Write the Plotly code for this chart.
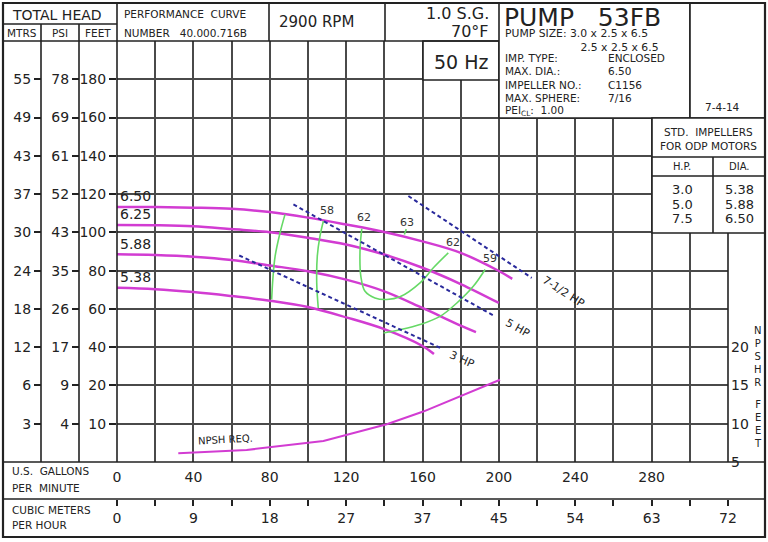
import plotly.graph_objects as go

# ---- values ----
# head-capacity curves, US GPM vs total head (ft), one pair per impeller
imp_names = ["6.50", "6.25", "5.88", "5.38"]
gpm_650 = [0, 20, 40, 60, 80, 100, 120, 140, 160, 180, 200, 207]
ft_650 = [113.2, 113.2, 112.9, 112.3, 110.6, 107.7, 104.1, 100.2, 95.3, 89.3, 79.8, 75.7]
gpm_625 = [0, 20, 40, 60, 80, 100, 120, 140, 160, 180, 200]
ft_625 = [103.8, 103.7, 103.2, 101.7, 100.1, 97.2, 93.7, 88.4, 81.5, 73.0, 63.1]
gpm_588 = [0, 20, 40, 60, 80, 100, 120, 140, 160, 180, 188]
ft_588 = [88.6, 88.2, 87.3, 85.6, 82.7, 79.7, 75.3, 69.2, 60.5, 51.3, 47.9]
gpm_538 = [0, 20, 40, 60, 80, 100, 120, 140, 160, 166]
ft_538 = [71.0, 70.3, 68.8, 66.7, 64.3, 61.0, 55.6, 49.4, 40.6, 36.4]
imp_label_ft = [119, 109.5, 94, 76.5]

# efficiency (iso) lines
eff_a_gpm = [88.0, 85.4, 82.8, 81.6, 81.0]
eff_a_ft = [109.4, 99.8, 87.5, 75.3, 64.9]
eff_58_gpm = [108.1, 106.3, 104.9, 104.6, 105.4]
eff_58_ft = [105.9, 98.0, 87.5, 73.6, 60.5]
eff_62_gpm = [128.2, 127.3, 127.7, 129.9, 135.1, 141.3, 148.2, 158.7, 165.7, 173.5]
eff_62_ft = [101.9, 91.1, 77.1, 69.2, 65.7, 64.9, 66.3, 73.6, 81.5, 89.3]
eff_63_gpm = [151.5, 150.5]
eff_63_ft = [101.7, 98.9]
eff_59_gpm = [139.6, 148.2, 158.7, 169.2, 178.0, 186.6, 192.8]
eff_59_ft = [47.4, 49.1, 51.8, 56.1, 63.1, 71.8, 80.6]
eff_text = ["58", "62", "63", "62", "59"]
eff_text_gpm = [109.8, 129.5, 151.8, 176.2, 195.4]
eff_text_ft = [111.6, 107.7, 105.0, 94.6, 86.3]

# motor horsepower limit lines
hp_names = ["3 HP", "5 HP", "7-1/2 HP"]
hp_gpm = [[64.0, 169.2], [92.4, 198.0], [152.6, 217.2]]
hp_ft = [[87.9, 39.7], [114.6, 56.1], [119.0, 76.2]]
hp_text_gpm = [180.5, 210.2, 233.6]
hp_text_ft = [33.4, 50.0, 69.1]
hp_text_angle = [24, 29, 33]

# NPSH required (ft, right scale)
npsh_gpm = [32.1, 67.9, 108.1, 141.3, 160.4, 179.7, 200.6]
npsh_ft = [6.14, 6.57, 7.75, 9.94, 11.59, 13.55, 15.74]

# axis labels
feet_ticks = [0, 20, 40, 60, 80, 100, 120, 140, 160, 180]
feet_labels = ["10", "20", "40", "60", "80", "100", "120", "140", "160", "180"]
psi_labels = ["4", "9", "17", "26", "35", "43", "52", "61", "69", "78"]
mtrs_labels = ["3", "6", "12", "18", "24", "30", "37", "43", "49", "55"]
npshr_ticks = [5, 10, 15, 20]
gpm_labels = [0, 40, 80, 120, 160, 200, 240, 280]
m3h_gpm = [0, 40, 80, 120, 160, 200, 240, 280, 320]
m3h_labels = ["0", "9", "18", "27", "37", "45", "54", "63", "72"]

# standard impellers table
std_hp = ["3.0", "5.0", "7.5"]
std_dia = ["5.38", "5.88", "6.50"]

FONT = "DejaVu Sans"
INK = "#222222"
GRID = "#4a4a4a"
MAG = "#d23cd2"
GREEN = "#66d966"
BLUE = "#2a2a9c"
W, H = 768, 542


def px(x):
    return x / W


def py(y):
    return 1 - y / H


fig = go.Figure()

for gx, gy in [(gpm_650, ft_650), (gpm_625, ft_625), (gpm_588, ft_588), (gpm_538, ft_538)]:
    fig.add_trace(go.Scatter(x=gx, y=gy, mode="lines", line=dict(color=MAG, width=2.5, shape="spline"),
                             hoverinfo="skip", showlegend=False))

for gx, gy in [(eff_a_gpm, eff_a_ft), (eff_58_gpm, eff_58_ft), (eff_62_gpm, eff_62_ft),
               (eff_63_gpm, eff_63_ft), (eff_59_gpm, eff_59_ft)]:
    fig.add_trace(go.Scatter(x=gx, y=gy, mode="lines", line=dict(color=GREEN, width=1.6, shape="spline"),
                             hoverinfo="skip", showlegend=False))

for gx, gy in zip(hp_gpm, hp_ft):
    fig.add_trace(go.Scatter(x=gx, y=gy, mode="lines", line=dict(color=BLUE, width=2, dash="4px,3px"),
                             hoverinfo="skip", showlegend=False))

fig.add_trace(go.Scatter(x=npsh_gpm, y=npsh_ft, yaxis="y2", mode="lines",
                         line=dict(color=MAG, width=2), hoverinfo="skip", showlegend=False))

# empty traces so the extra scales get drawn
for xa, ya in [("x", "y3"), ("x", "y4"), ("x2", "y")]:
    fig.add_trace(go.Scatter(x=[None], y=[None], xaxis=xa, yaxis=ya, showlegend=False, hoverinfo="skip"))

ann = []


def note(x, y, text, size=11, anchor="left", align="left"):
    ann.append(dict(xref="paper", yref="paper", x=px(x), y=py(y), text=text, showarrow=False,
                    xanchor=anchor, yanchor="middle", align=align,
                    font=dict(family=FONT, size=size, color=INK)))


for name, yv in zip(imp_names, imp_label_ft):
    ann.append(dict(x=0.5, y=yv, text=name, showarrow=False, xanchor="left", yanchor="middle",
                    font=dict(family=FONT, size=14, color=INK)))
for t, gx, gy in zip(eff_text, eff_text_gpm, eff_text_ft):
    ann.append(dict(x=gx, y=gy, text=t, showarrow=False, font=dict(family=FONT, size=11, color="#333")))
for t, gx, gy, a in zip(hp_names, hp_text_gpm, hp_text_ft, hp_text_angle):
    ann.append(dict(x=gx, y=gy, text=t, showarrow=False, textangle=a,
                    font=dict(family=FONT, size=11, color=INK)))
ann.append(dict(x=56.6, y=7.9, yref="y2", text="NPSH REQ.", showarrow=False, textangle=-3,
                font=dict(family=FONT, size=10, color=INK)))

# header texts
note(10, 15, "TOTAL HEAD", 14)
note(22, 33, "MTRS", 10.5, "center")
note(60, 33, "PSI", 10.5, "center")
note(98, 33, "FEET", 10.5, "center")
note(122, 14, "PERFORMANCE  CURVE", 10.5)
note(122, 33, "NUMBER   40.000.716B", 10.5)
note(277, 22, "2900 RPM", 15)
note(491, 14, "1.0 S.G.", 16, "right")
note(491, 31, "70°F", 16, "right")
note(461, 62, "50 Hz", 19, "center")
note(502, 17, "PUMP   53FB", 25)
note(503, 41, "PUMP SIZE: 3.0 x 2.5 x 6.5<br>" + "&nbsp;" * 22 + "2.5 x 2.5 x 6.5", 10.8)
rows = [("IMP. TYPE:", "ENCLOSED"), ("MAX. DIA.:", "6.50"), ("IMPELLER NO.:", "C1156"),
        ("MAX. SPHERE:", "7/16")]
for i, (k, v) in enumerate(rows):
    note(503, 58 + i * 13.3, k, 10.5)
    note(606, 58 + i * 13.3, v, 10.5)
note(503, 111, "PEI<sub>CL</sub>:  1.00", 10.5)
note(722, 107, "7-4-14", 10.5, "center")
note(708, 132, "STD.  IMPELLERS", 10.5, "center")
note(708, 146, "FOR ODP MOTORS", 10.5, "center")
note(682, 166, "H.P.", 10, "center")
note(739, 166, "DIA.", 10, "center")
for i, (a, b) in enumerate(zip(std_hp, std_dia)):
    note(682, 189 + i * 15, a, 13, "center")
    note(739, 189 + i * 15, b, 13, "center")
note(10, 471, "U.S.  GALLONS", 10.5)
note(10, 488, "PER  MINUTE", 10.5)
note(10, 510, "CUBIC METERS", 10.5)
note(10, 525, "PER HOUR", 10.5)
note(758, 356, "<br>".join("NPSHR"), 10, "center", "center")
note(758, 424, "<br>".join("FEET"), 10, "center", "center")

shapes = []


def seg(x0, y0, x1, y1, w=1.6):
    shapes.append(dict(type="line", xref="paper", yref="paper", x0=px(x0), y0=py(y0), x1=px(x1), y1=py(y1),
                       line=dict(color=INK, width=w), layer="above"))


def box(x0, y0, x1, y1, w=1.6):
    shapes.append(dict(type="rect", xref="paper", yref="paper", x0=px(x0), y0=py(y0), x1=px(x1), y1=py(y1),
                       line=dict(color=INK, width=w), fillcolor="white", layer="above"))


box(423, 41, 499, 80)
box(499, 3, 690, 118)
box(690, 3, 765, 118)
box(652, 118, 765, 233)
seg(652, 157, 765, 157)
seg(652, 176, 765, 176)
seg(713, 157, 713, 233)
seg(3, 24, 117, 24)
seg(3, 41, 499, 41)
seg(41, 24, 41, 462)
seg(79, 24, 79, 462)
seg(117, 3, 117, 462)
seg(269, 3, 269, 41)
seg(385, 3, 385, 41)
seg(728, 233, 728, 462)
seg(3, 462, 765, 462)
seg(3, 499, 765, 499)
shapes.append(dict(type="rect", xref="paper", yref="paper", x0=px(3), y0=py(537), x1=px(765), y1=py(3),
                   line=dict(color=INK, width=2.2), layer="above"))

tick_font = dict(family=FONT, size=14, color=INK)
left_axis = dict(range=[-20, 200], tickvals=feet_ticks, showgrid=False, zeroline=False, showline=False,
                 ticks="outside", ticklen=7, tickwidth=1.5, tickcolor=INK, tickfont=tick_font,
                 fixedrange=True, automargin=False)

fig.update_layout(
    width=W, height=H, margin=dict(l=0, r=0, t=0, b=0, autoexpand=False),
    paper_bgcolor="white", plot_bgcolor="white", showlegend=False,
    xaxis=dict(domain=[px(117), px(728)], range=[0, 320], tickvals=gpm_labels,
               showgrid=True, gridcolor=GRID, gridwidth=1.6, zeroline=False, showline=False,
               minor=dict(dtick=20, tick0=0, showgrid=True, gridcolor=GRID, gridwidth=1.6),
               ticks="", tickfont=tick_font, ticklabelstandoff=5, fixedrange=True, automargin=False),
    xaxis2=dict(overlaying="x", anchor="free", position=py(499), side="bottom", range=[0, 320],
                tickvals=m3h_gpm, ticktext=m3h_labels, showgrid=False, zeroline=False, showline=False,
                ticks="outside", ticklen=6, tickwidth=1.5, tickcolor=INK, tickfont=tick_font,
                minor=dict(ticks="outside", ticklen=6, dtick=20, tick0=0, tickwidth=1.5, tickcolor=INK),
                fixedrange=True, automargin=False),
    yaxis=dict(domain=[py(462), py(41)], ticktext=feet_labels, **left_axis),
    yaxis2=dict(overlaying="y", side="right", anchor="x", range=[5, 60], tickvals=npshr_ticks,
                showgrid=False, zeroline=False, showline=False, ticks="", tickfont=tick_font,
                ticklabelstandoff=2, fixedrange=True, automargin=False),
    yaxis3=dict(overlaying="y", anchor="free", position=px(79), side="left", ticktext=psi_labels, **left_axis),
    yaxis4=dict(overlaying="y", anchor="free", position=px(41), side="left", ticktext=mtrs_labels, **left_axis),
    annotations=ann, shapes=shapes,
)
fig.update_layout(yaxis=dict(showgrid=True, gridcolor=GRID, gridwidth=1.6))

# drop the browser's default 8px page margin so the sheet sits at the window corner
fig.write_html("out.html", config={"displayModeBar": False},
               post_script="document.body.style.margin='0';")
